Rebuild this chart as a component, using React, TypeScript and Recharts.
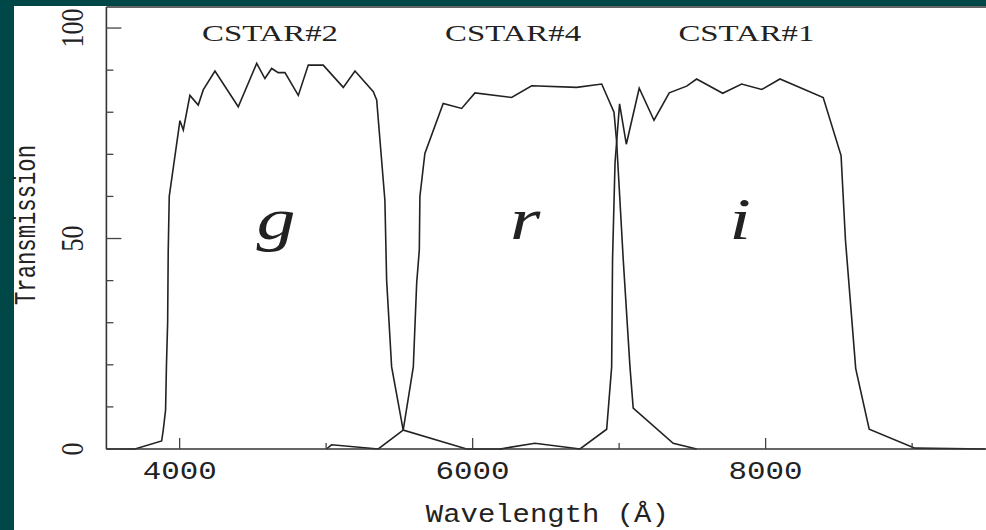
import React from "react";
import { LineChart, Line, XAxis, YAxis, ReferenceDot } from "recharts";

// filter transmission curves, wavelength in Å, transmission in %
const gWave = [3500, 3695, 3877, 3888, 3904, 3910, 3918, 3922, 3929, 4002, 4025, 4070, 4127, 4161, 4241, 4400, 4526, 4582, 4628, 4673, 4719, 4810, 4878, 4980, 5117, 5197, 5322, 5345, 5401, 5413, 5447, 5526, 5959, 6200];
const gTrans = [0, 0, 1.9, 4.5, 9.3, 20, 30, 47, 60, 78, 75.8, 84, 81.7, 85.3, 89.8, 81.3, 91.6, 88, 90.4, 89.4, 89.4, 84, 91.2, 91.2, 85.9, 89.8, 84.9, 82.9, 59.1, 40, 19.5, 4.5, 0, 0];

const rWave = [5002, 5037, 5356, 5526, 5595, 5618, 5636, 5640, 5674, 5799, 5925, 6016, 6266, 6403, 6710, 6881, 6965, 6983, 7028, 7074, 7096, 7369, 7529];
const rTrans = [0, 1, 0, 4.5, 19.5, 39.4, 47.3, 60, 70.2, 82.1, 80.9, 84.6, 83.5, 86.3, 85.9, 86.7, 80, 73, 45, 19.5, 9.7, 1.35, 0];

const iWave = [6186, 6425, 6733, 6915, 6949, 6955, 6972, 7003, 7049, 7137, 7238, 7342, 7461, 7529, 7707, 7836, 7973, 8098, 8393, 8515, 8545, 8615, 8707, 9019, 9500];
const iTrans = [0, 1.35, 0, 4.7, 19.5, 45, 68, 82, 72.4, 85.7, 78.1, 84.6, 86.2, 87.9, 84.5, 86.7, 85.4, 87.9, 83.5, 69.7, 49.6, 19.1, 4.7, 0.2, 0];

const xTicks = [4000, 5000, 6000, 7000, 8000, 9000];
const xLabelled = [4000, 6000, 8000];
const yTicks = [0, 10, 20, 30, 40, 50, 60, 70, 80, 90, 100];
const yLabelled = [0, 50, 100];

const filterNames = ["CSTAR#2", "CSTAR#4", "CSTAR#1"];
const filterNameWave = [4617, 6276, 7869];
const filterNameLevel = 97;
const bandLetters = ["g", "r", "i"];
const bandLetterWave = [4658, 6358, 7825];
const bandLetterLevel = 50;

const INK = "#222";
const TEAL = "#004848";

const toPoints = (w: number[], t: number[]) => w.map((x, k) => ({ w: x, t: t[k] }));
const gData = toPoints(gWave, gTrans);
const rData = toPoints(rWave, rTrans);
const iData = toPoints(iWave, iTrans);

const BottomTick = ({ x, y, payload }: any) => {
  const major = xLabelled.includes(payload.value);
  return (
    <g>
      <line x1={x} y1={y} x2={x} y2={y - (major ? 11 : 6)} stroke="#444" strokeWidth={1.3} />
      {major && (
        <text x={x} y={y + 30} textAnchor="middle" fontFamily="Liberation Mono" fontSize={26} textLength={74} lengthAdjust="spacingAndGlyphs" fill={INK}>
          {payload.value}
        </text>
      )}
    </g>
  );
};

const TopTick = ({ x, y, payload }: any) => {
  const major = xLabelled.includes(payload.value);
  return <line x1={x} y1={y} x2={x} y2={y + (major ? 11 : 6)} stroke="#444" strokeWidth={1.3} />;
};

const LeftTick = ({ x, y, payload }: any) => {
  const major = yLabelled.includes(payload.value);
  const label = String(payload.value);
  return (
    <g>
      <line x1={x} y1={y} x2={x + (major ? 15 : 7)} y2={y} stroke="#444" strokeWidth={1.3} />
      {major && (
        <text transform={`translate(${x - 23} ${y}) rotate(-90) scale(1 1.2)`} textAnchor="middle" fontFamily="Liberation Serif" fontSize={26} textLength={13 * label.length} lengthAdjust="spacingAndGlyphs" fill={INK}>
          {label}
        </text>
      )}
    </g>
  );
};

const RightTick = ({ x, y, payload }: any) => {
  const major = yLabelled.includes(payload.value);
  return <line x1={x - (major ? 15 : 7)} y1={y} x2={x} y2={y} stroke="#444" strokeWidth={1.3} />;
};

const WaveTitle = ({ viewBox }: any) => (
  <text x={viewBox.x + viewBox.width / 2} y={viewBox.y + 73} textAnchor="middle" fontFamily="Liberation Mono" fontSize={25} textLength={243} lengthAdjust="spacingAndGlyphs" fill={INK}>
    Wavelength (Å)
  </text>
);

const TransTitle = ({ viewBox }: any) => (
  <text transform={`translate(${viewBox.x - 70} ${viewBox.y + viewBox.height / 2 - 3}) rotate(-90) scale(1 1.38)`} textAnchor="middle" fontFamily="Liberation Mono" fontSize={22} textLength={160} lengthAdjust="spacingAndGlyphs" fill={INK}>
    Transmission
  </text>
);

const axisStroke = { stroke: "#333", strokeWidth: 1.6 };

export default function App() {
  return (
    <div style={{ position: "absolute", left: 0, top: 0, width: 986, height: 530, overflow: "hidden", background: TEAL }}>
      <div style={{ position: "absolute", left: 14, top: 6, right: 0, bottom: 0, background: "#fff" }} />
      <div style={{ position: "absolute", left: 0, top: 0 }}>
        <LineChart width={1000} height={530} margin={{ top: 6, left: 105.4, right: 10.7, bottom: 80 }}>
          <XAxis dataKey="w" type="number" domain={[3500, 9520]} ticks={xTicks} height={1} tickSize={0} tickMargin={0} tickLine={false} tick={<BottomTick />} axisLine={axisStroke} label={<WaveTitle />} interval={0} />
          <XAxis xAxisId="top" orientation="top" type="number" domain={[3500, 9520]} ticks={xTicks} height={1} tickSize={0} tickMargin={0} tickLine={false} tick={<TopTick />} axisLine={axisStroke} interval={0} />
          <YAxis type="number" domain={[0, 105]} ticks={yTicks} width={1} tickSize={0} tickMargin={0} tickLine={false} tick={<LeftTick />} axisLine={axisStroke} label={<TransTitle />} interval={0} />
          <YAxis yAxisId="right" orientation="right" type="number" domain={[0, 105]} ticks={yTicks} width={1} tickSize={0} tickMargin={0} tickLine={false} tick={<RightTick />} axisLine={axisStroke} interval={0} />
          <Line data={gData} dataKey="t" type="linear" stroke={INK} strokeWidth={1.6} dot={false} isAnimationActive={false} />
          <Line data={rData} dataKey="t" type="linear" stroke={INK} strokeWidth={1.6} dot={false} isAnimationActive={false} />
          <Line data={iData} dataKey="t" type="linear" stroke={INK} strokeWidth={1.6} dot={false} isAnimationActive={false} />
          {filterNames.map((name, k) => (
            <ReferenceDot
              key={name}
              x={filterNameWave[k]}
              y={filterNameLevel}
              r={0}
              shape={(p: any) => (
                <text x={p.cx} y={p.cy} textAnchor="middle" fontFamily="Liberation Serif" fontSize={23} textLength={136} lengthAdjust="spacingAndGlyphs" fill={INK}>
                  {name}
                </text>
              )}
            />
          ))}
          {bandLetters.map((letter, k) => (
            <ReferenceDot
              key={letter}
              x={bandLetterWave[k]}
              y={bandLetterLevel}
              r={0}
              shape={(p: any) => (
                <text transform={`translate(${p.cx} ${p.cy}) scale(1.3 1)`} textAnchor="middle" fontFamily="Liberation Serif" fontStyle="italic" fontSize={60} fill={INK}>
                  {letter}
                </text>
              )}
            />
          ))}
        </LineChart>
      </div>
    </div>
  );
}
